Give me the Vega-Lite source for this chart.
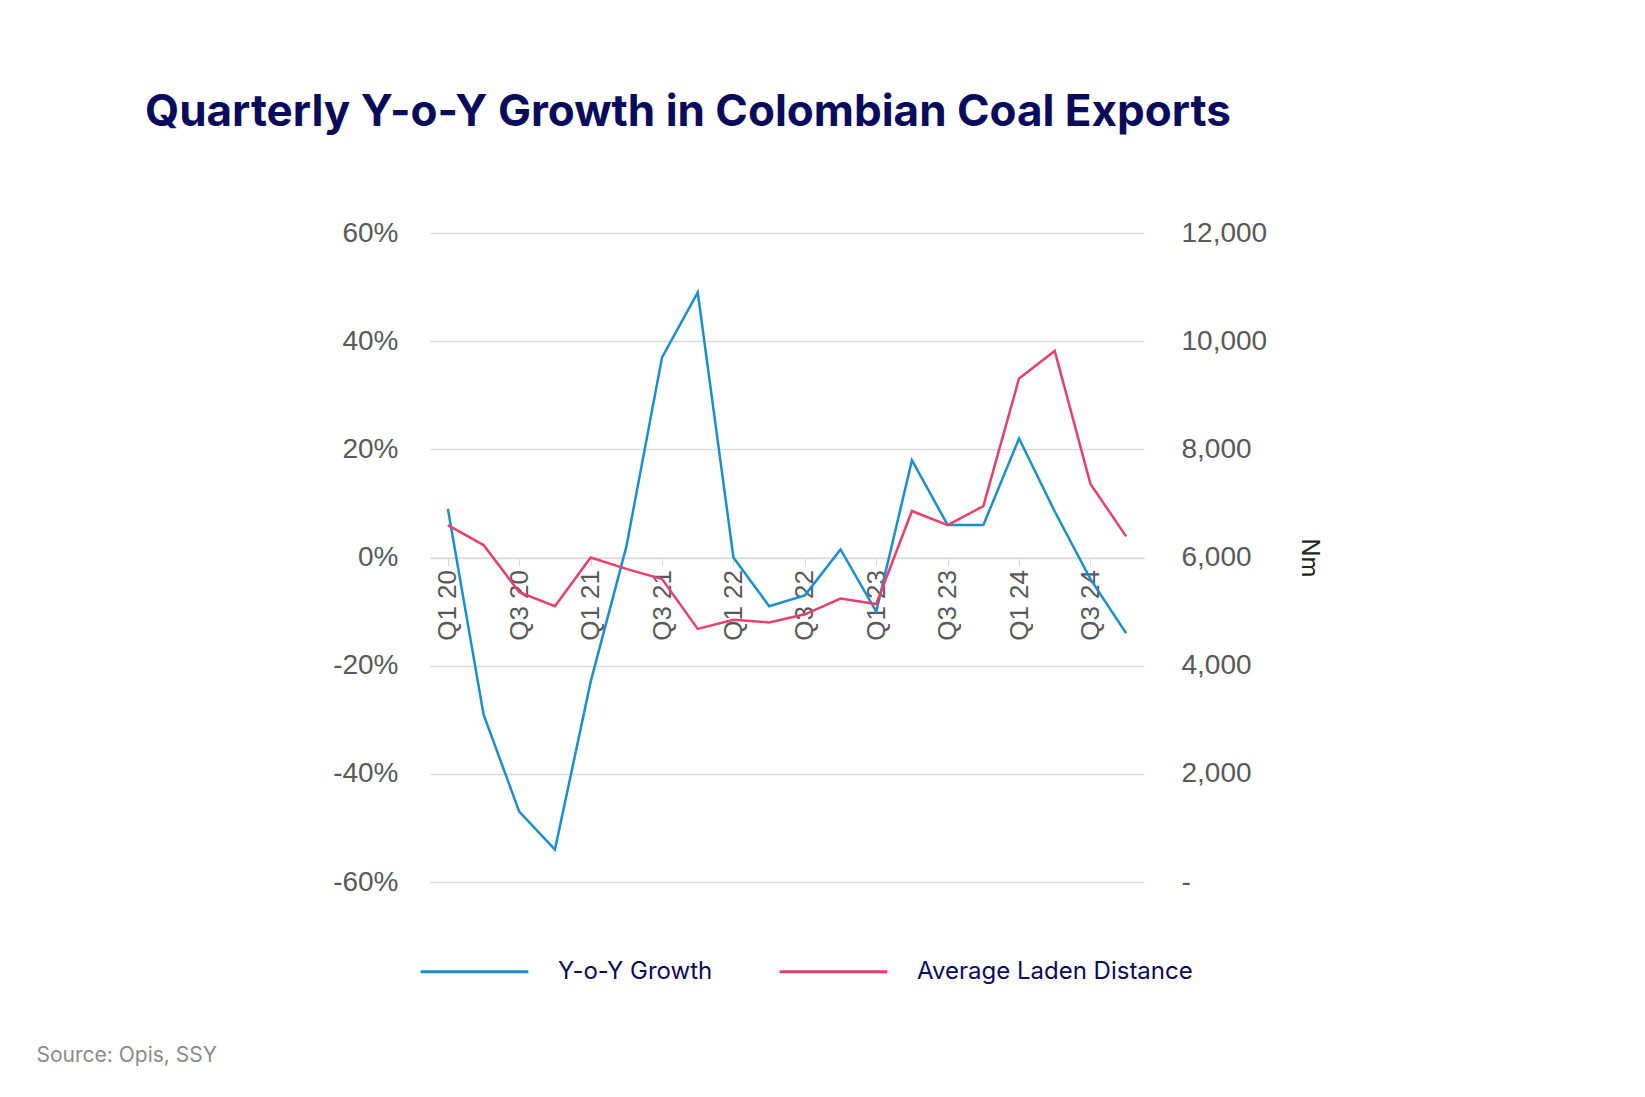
{
  "$schema": "https://vega.github.io/schema/vega-lite/v6.json",
  "width": 714,
  "height": 649,
  "autosize": "none",
  "padding": {"left": 430, "top": 233, "right": 501, "bottom": 215},
  "background": "white",
  "config": {"view": {"stroke": null}, "font": "Liberation Sans"},
  "title": {
    "text": "Quarterly Y-o-Y Growth in Colombian Coal Exports",
    "anchor": "start", "frame": "group", "dx": -285, "offset": 84,
    "font": "Inter", "fontSize": 44, "fontWeight": "bold", "color": "#0b0b5c"
  },
  "data": {"values": [
    {"q": "Q1 20", "growth": 0.09, "dist": 6600},
    {"q": "Q2 20", "growth": -0.29, "dist": 6230},
    {"q": "Q3 20", "growth": -0.47, "dist": 5360},
    {"q": "Q4 20", "growth": -0.54, "dist": 5100},
    {"q": "Q1 21", "growth": -0.23, "dist": 6000},
    {"q": "Q2 21", "growth": 0.02, "dist": 5790},
    {"q": "Q3 21", "growth": 0.37, "dist": 5600},
    {"q": "Q4 21", "growth": 0.49, "dist": 4680},
    {"q": "Q1 22", "growth": 0.0, "dist": 4850},
    {"q": "Q2 22", "growth": -0.09, "dist": 4800},
    {"q": "Q3 22", "growth": -0.07, "dist": 4950},
    {"q": "Q4 22", "growth": 0.015, "dist": 5240},
    {"q": "Q1 23", "growth": -0.1, "dist": 5140},
    {"q": "Q2 23", "growth": 0.18, "dist": 6860},
    {"q": "Q3 23", "growth": 0.06, "dist": 6600},
    {"q": "Q4 23", "growth": 0.06, "dist": 6950},
    {"q": "Q1 24", "growth": 0.22, "dist": 9310},
    {"q": "Q2 24", "growth": 0.085, "dist": 9820},
    {"q": "Q3 24", "growth": -0.04, "dist": 7360},
    {"q": "Q4 24", "growth": -0.14, "dist": 6390}
  ]},
  "layer": [
    {
      "mark": {"type": "line", "strokeWidth": 2.5},
      "encoding": {
        "x": {"field": "q", "type": "ordinal", "sort": null,
          "scale": {"type": "point", "padding": 0.5},
          "axis": {"title": null, "offset": -324.5, "labelAngle": -90, "labelFontSize": 26,
            "labelFont": "Liberation Sans", "labelColor": "#595959", "domainColor": "#d9d9d9", "tickColor": "#d9d9d9",
            "ticks": true, "tickSize": 8, "labelPadding": 4,
            "values": ["Q1 20", "Q3 20", "Q1 21", "Q3 21", "Q1 22", "Q3 22", "Q1 23", "Q3 23", "Q1 24", "Q3 24"]}},
        "y": {"field": "growth", "type": "quantitative",
          "scale": {"domain": [-0.6, 0.6], "nice": false},
          "axis": {"title": null, "values": [-0.6, -0.4, -0.2, 0, 0.2, 0.4, 0.6],
            "labelExpr": "replace(format(datum.value, '.0%'), '\u2212', '-')",
            "labelFont": "Liberation Sans", "labelFontSize": 28, "labelColor": "#595959", "domain": false, "ticks": false,
            "labelPadding": 32, "gridColor": "#d9d9d9", "gridWidth": 1.5}},
        "color": {"datum": "Y-o-Y Growth",
          "scale": {"domain": ["Y-o-Y Growth", "Average Laden Distance"], "range": ["#1a8fd0", "#e8406c"]},
          "legend": {"title": null, "orient": "none", "legendX": -11, "legendY": 683, "direction": "horizontal",
            "symbolType": "stroke", "symbolSize": 11600, "symbolStrokeWidth": 3, "labelLimit": 0,
            "labelFontSize": 24, "labelColor": "#0b0b5c", "labelFont": "Inter", "columnPadding": 60, "labelOffset": 28}}
      }
    },
    {
      "mark": {"type": "line", "strokeWidth": 2.5},
      "encoding": {
        "x": {"field": "q", "type": "ordinal", "sort": null,
          "scale": {"type": "point", "padding": 0.5},
          "axis": {"title": "Source: Opis, SSY", "labels": false, "ticks": false, "domain": false,
            "titleAnchor": "start", "titleAlign": "left", "titleX": -394, "titleY": 832, "titleFont": "Inter",
            "titleFontWeight": "normal", "titleFontSize": 21, "titleColor": "#8a8a8a"}},
        "y": {"field": "dist", "type": "quantitative",
          "scale": {"domain": [0, 12000], "nice": false},
          "axis": {"orient": "right", "title": "Nm", "titleFont": "Inter", "titleFontSize": 24, "titleFontWeight": "normal",
            "titleColor": "#222", "titlePadding": 30, "grid": false, "domain": false, "ticks": false,
            "values": [0, 2000, 4000, 6000, 8000, 10000, 12000],
            "labelExpr": "datum.value == 0 ? '-' : format(datum.value, ',')",
            "labelFont": "Liberation Sans", "labelFontSize": 28, "labelColor": "#595959", "labelPadding": 37}},
        "color": {"datum": "Average Laden Distance"}
      }
    }
  ],
  "resolve": {"scale": {"y": "independent"}, "axis": {"x": "independent"}}
}
